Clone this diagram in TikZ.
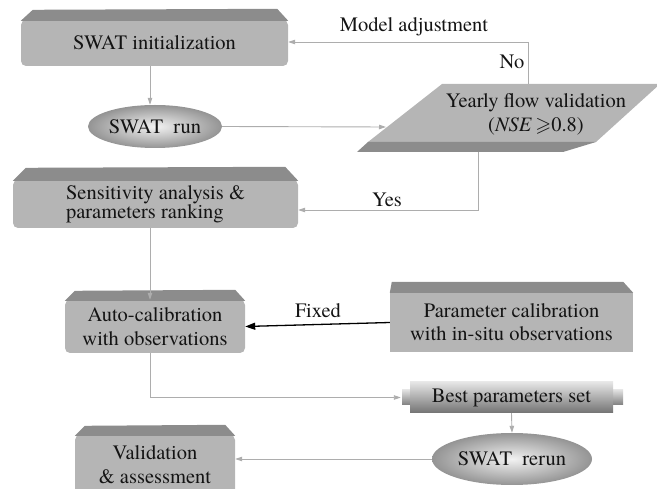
\documentclass[tikz,border=0pt]{standalone}
\usepackage{amssymb}
\usepackage{fontspec}
\setmainfont{TeX Gyre Termes}
\newfontfamily\tnr{TeX Gyre Termes}
\usetikzlibrary{arrows.meta,shapes.geometric,calc}
\definecolor{boxgray}{gray}{0.71}
\definecolor{bandgray}{gray}{0.55}
\definecolor{linegray}{gray}{0.68}
\definecolor{txt}{gray}{0.08}
\begin{document}
\begin{tikzpicture}[x=1pt,y=-1pt,
  every node/.style={font=\tnr\fontsize{20.5}{24}\selectfont, text=txt},
  box/.style={rectangle, fill=boxgray, rounded corners=5pt, inner sep=0pt, align=center},
  sbox/.style={rectangle, fill=boxgray, inner sep=0pt, align=center},
  band/.style={fill=bandgray},
  oval/.style={ellipse, inner sep=0pt, shading=radial, inner color=black!5, outer color=black!42},
  conn/.style={draw=linegray, line width=0.9pt, -{Triangle[length=7pt,width=4.5pt]}},
  lbl/.style={inner sep=0pt}]
\useasboundingbox (0,0) rectangle (657,489);

% SWAT initialization
\node[box, minimum width=267pt, minimum height=46pt] (init) at (154.5,43) {SWAT initialization};
\fill[band] ([yshift=-1pt]init.north west) -- ++(12,-11) -- ($(init.north east)+(-11,-11)$) -- ([yshift=-1pt]init.north east) -- cycle;

% SWAT run
\node[oval, minimum width=134pt, minimum height=43pt] (run) at (155,126.5) {SWAT~~run};

% Yearly flow validation (parallelogram)
\coordinate (p1) at (442,84);
\coordinate (p2) at (660,84);
\coordinate (p3) at (596,142);
\coordinate (p4) at (368,142);
\coordinate (p5) at (563,152);
\coordinate (p6) at (357,152);
\fill[boxgray] (p1) -- (p2) -- (p3) -- (p4) -- cycle;
\fill[bandgray] (p4) -- (p3) -- (p5) -- (p6) -- cycle;
\node[lbl, align=center] (val) at (536,114) {Yearly flow validation\\(\textit{NSE}\,$\geqslant$0.8)};
\coordinate (valin) at (386,127);
\coordinate (valtop) at (528,84);
\coordinate (valbot) at (478,152);

% Sensitivity analysis
\node[box, minimum width=285pt, minimum height=48pt, align=left, font=\tnr\fontsize{20.5}{19}\selectfont] (sens) at (155.5,204) {Sensitivity analysis \&\\parameters ranking};
\fill[band] ([yshift=-1pt]sens.north west) -- ++(13,-13) -- ($(sens.north east)+(-13,-13)$) -- ([yshift=-1pt]sens.north east) -- cycle;

% Auto-calibration
\node[box, minimum width=180pt, minimum height=53pt] (auto) at (155,326.5) {Auto-calibration\\with observations};
\fill[band] ([yshift=-1pt]auto.north west) -- ++(10,-10) -- ($(auto.north east)+(-10,-10)$) -- ([yshift=-1pt]auto.north east) -- cycle;

% Parameter calibration
\node[sbox, minimum width=243pt, minimum height=59pt, font=\tnr\fontsize{20.5}{23}\selectfont] (param) at (511.5,322.5) {Parameter calibration\\with in-situ observations};
\fill[band] (param.north west) -- ++(2,-11) -- ($(param.north east)+(-10,-11)$) -- (param.north east) -- cycle;

% Best parameters set
\fill[top color=black!12, bottom color=black!50] (402,390) rectangle (411,405);
\fill[top color=black!12, bottom color=black!50] (612,390) rectangle (623,405);
\node[rectangle, inner sep=0pt, minimum width=203pt, minimum height=31pt, top color=black!10, bottom color=black!55] (best) at (511.5,397.5) {Best parameters set};

% SWAT rerun
\node[oval, minimum width=160pt, minimum height=52pt] (rerun) at (512,459) {SWAT~~rerun};

% Validation & assessment
\node[box, minimum width=160pt, minimum height=60pt] (valid) at (155,465) {};
\node[lbl, align=center] (validtxt) at (155,464.5) {Validation\\\&~assessment};
\fill[band] ([yshift=-1pt]valid.north west) -- ++(10,-10) -- ($(valid.north east)+(-10,-10)$) -- ([yshift=-1pt]valid.north east) -- cycle;

% connectors
\draw[conn] ([xshift=-4.5pt]init.south) -- ([xshift=-5pt]run.north);
\draw[conn] (run.east) -- (valin);
\draw[conn] (valtop) |- (init.east |- 0,42);
\node[lbl] (noLbl) at (512,62) {No};
\node[lbl] (modLbl) at (414,27) {Model adjustment};
\draw[conn] (valbot) |- (sens.east |- 0,210);
\node[lbl] (yesLbl) at (387,200) {Yes};
\draw[conn] ([xshift=-5.5pt]sens.south) -- ([xshift=-5pt]auto.north);
\draw[black, line width=1.3pt, -{Triangle[length=10pt,width=7pt]}] (param.west) -- (auto.east);
\node[lbl] (fixLbl) at (318,311) {Fixed};
\draw[conn] ([xshift=-5pt]auto.south) |- ([xshift=-9pt]best.west);
\draw[conn] (best.south) -- (rerun.north);
\draw[conn] (rerun.west) -- (valid.east |- rerun.west);
\end{tikzpicture}
\end{document}
